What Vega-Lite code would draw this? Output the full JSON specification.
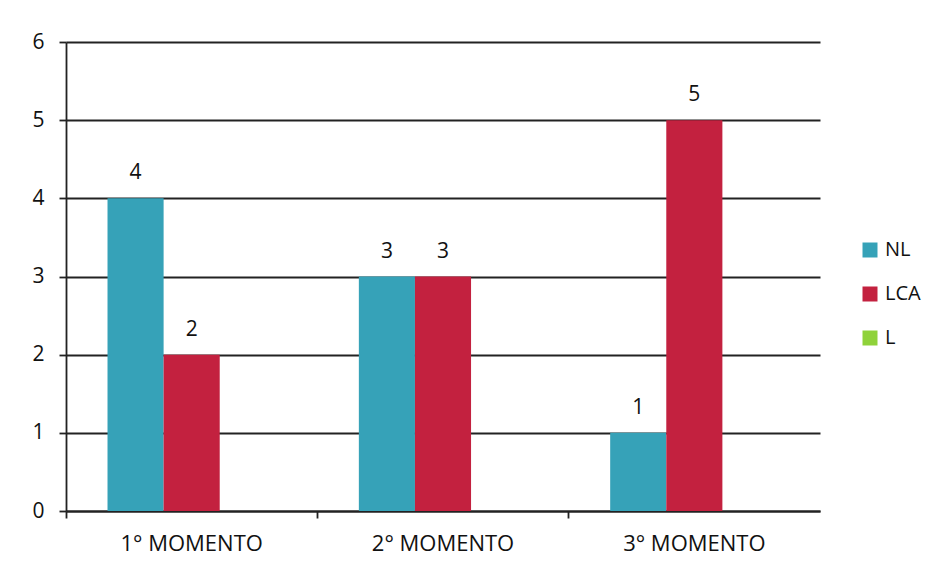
{
  "$schema": "https://vega.github.io/schema/vega-lite/v6.json",
  "autosize": {"type": "none"},
  "width": 754,
  "height": 469,
  "padding": {"left": 66, "top": 42, "right": 118, "bottom": 57},
  "background": "white",
  "config": {
    "view": {"stroke": null},
    "font": "Open Sans"
  },
  "data": {
    "values": [
      {"momento": "1° MOMENTO", "serie": "NL", "valor": 4},
      {"momento": "1° MOMENTO", "serie": "LCA", "valor": 2},
      {"momento": "1° MOMENTO", "serie": "L", "valor": 0},
      {"momento": "2° MOMENTO", "serie": "NL", "valor": 3},
      {"momento": "2° MOMENTO", "serie": "LCA", "valor": 3},
      {"momento": "2° MOMENTO", "serie": "L", "valor": 0},
      {"momento": "3° MOMENTO", "serie": "NL", "valor": 1},
      {"momento": "3° MOMENTO", "serie": "LCA", "valor": 5},
      {"momento": "3° MOMENTO", "serie": "L", "valor": 0}
    ]
  },
  "encoding": {
    "x": {
      "field": "momento",
      "type": "nominal",
      "scale": {"paddingInner": 0, "paddingOuter": 0},
      "axis": {
        "title": null,
        "labelAngle": 0,
        "labelFontSize": 22,
        "labelColor": "#111",
        "labelPadding": 15,
        "bandPosition": 0,
        "ticks": true,
        "tickColor": "#222",
        "tickWidth": 1.8,
        "tickSize": 7,
        "domainColor": "#222",
        "domainWidth": 1.8
      }
    },
    "xOffset": {
      "field": "serie",
      "type": "nominal",
      "sort": ["NL", "LCA", "L"],
      "scale": {"paddingInner": 0, "paddingOuter": 0.74}
    },
    "y": {
      "field": "valor",
      "type": "quantitative",
      "scale": {"domain": [0, 6], "nice": false},
      "axis": {
        "title": null,
        "values": [0, 1, 2, 3, 4, 5, 6],
        "labelFontSize": 21,
        "labelColor": "#111",
        "labelPadding": 15,
        "tickColor": "#222",
        "tickWidth": 1.8,
        "tickSize": 7,
        "domainColor": "#222",
        "domainWidth": 1.8,
        "grid": true,
        "gridColor": "#222",
        "gridWidth": 1.8
      }
    }
  },
  "layer": [
    {
      "mark": {"type": "bar"},
      "encoding": {
        "color": {
          "field": "serie",
          "type": "nominal",
          "sort": ["NL", "LCA", "L"],
          "scale": {"domain": ["NL", "LCA", "L"], "range": ["#36a2b8", "#c3213f", "#8fd23a"]},
          "legend": {
            "title": null,
            "orient": "none",
            "legendX": 794,
            "legendY": 198,
            "symbolType": "square",
            "symbolSize": 225,
            "symbolStrokeWidth": 0,
            "labelFontSize": 20,
            "labelColor": "#111",
            "rowPadding": 24,
            "labelOffset": 5
          }
        }
      }
    },
    {
      "transform": [{"filter": "datum.valor > 0"}],
      "mark": {"type": "text", "dy": -25, "fontSize": 21, "color": "#111"},
      "encoding": {
        "text": {"field": "valor", "type": "quantitative"}
      }
    }
  ]
}
